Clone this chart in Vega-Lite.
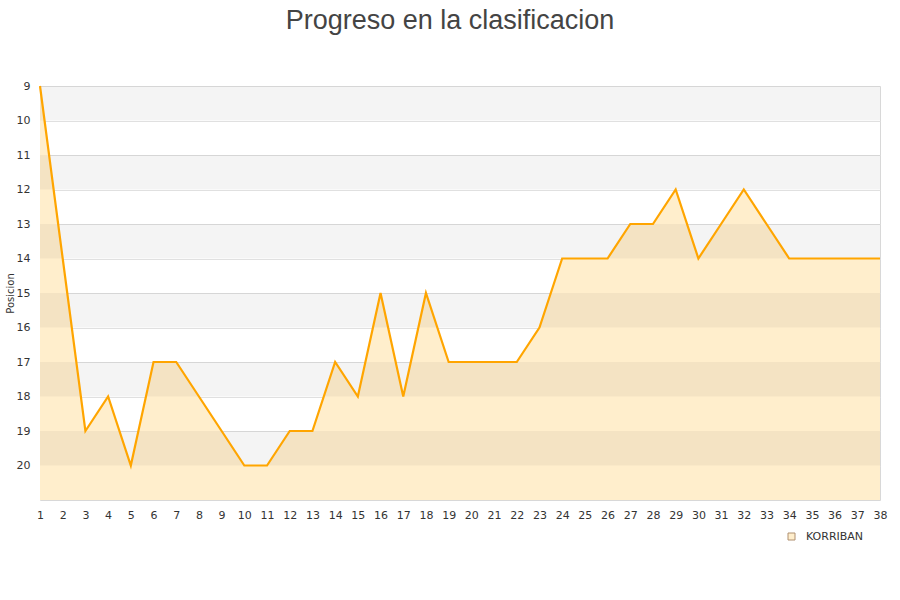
{
  "$schema": "https://vega.github.io/schema/vega-lite/v6.json",
  "width": 840,
  "height": 414,
  "autosize": {"type": "none"},
  "padding": {"left": 40, "top": 86, "right": 20, "bottom": 100},
  "background": "white",
  "title": {
    "text": "Progreso en la clasificacion",
    "font": "Liberation Sans",
    "fontSize": 27,
    "fontWeight": "normal",
    "color": "#444444",
    "anchor": "middle",
    "dx": -10,
    "offset": 45
  },
  "config": {
    "view": {"stroke": "#d8d8d8", "strokeWidth": 1},
    "axis": {"labelFont": "DejaVu Sans", "labelFontSize": 11, "labelColor": "#333333", "titleFont": "DejaVu Sans", "titleFontWeight": "normal", "labelOverlap": false, "ticks": false, "domain": false, "labelFlush": false},
    "axisX": {"grid": false, "labelPadding": 9},
    "axisY": {"grid": true, "gridColor": "#e0e0e0", "labelPadding": 10}
  },
  "datasets": {
    "bands": [
      {"y0": 9, "y1": 10}, {"y0": 11, "y1": 12}, {"y0": 13, "y1": 14},
      {"y0": 15, "y1": 16}, {"y0": 17, "y1": 18}, {"y0": 19, "y1": 20}
    ],
    "pos": [
      {"jornada": 1, "pos": 9, "equipo": "KORRIBAN"},
      {"jornada": 2, "pos": 14, "equipo": "KORRIBAN"},
      {"jornada": 3, "pos": 19, "equipo": "KORRIBAN"},
      {"jornada": 4, "pos": 18, "equipo": "KORRIBAN"},
      {"jornada": 5, "pos": 20, "equipo": "KORRIBAN"},
      {"jornada": 6, "pos": 17, "equipo": "KORRIBAN"},
      {"jornada": 7, "pos": 17, "equipo": "KORRIBAN"},
      {"jornada": 8, "pos": 18, "equipo": "KORRIBAN"},
      {"jornada": 9, "pos": 19, "equipo": "KORRIBAN"},
      {"jornada": 10, "pos": 20, "equipo": "KORRIBAN"},
      {"jornada": 11, "pos": 20, "equipo": "KORRIBAN"},
      {"jornada": 12, "pos": 19, "equipo": "KORRIBAN"},
      {"jornada": 13, "pos": 19, "equipo": "KORRIBAN"},
      {"jornada": 14, "pos": 17, "equipo": "KORRIBAN"},
      {"jornada": 15, "pos": 18, "equipo": "KORRIBAN"},
      {"jornada": 16, "pos": 15, "equipo": "KORRIBAN"},
      {"jornada": 17, "pos": 18, "equipo": "KORRIBAN"},
      {"jornada": 18, "pos": 15, "equipo": "KORRIBAN"},
      {"jornada": 19, "pos": 17, "equipo": "KORRIBAN"},
      {"jornada": 20, "pos": 17, "equipo": "KORRIBAN"},
      {"jornada": 21, "pos": 17, "equipo": "KORRIBAN"},
      {"jornada": 22, "pos": 17, "equipo": "KORRIBAN"},
      {"jornada": 23, "pos": 16, "equipo": "KORRIBAN"},
      {"jornada": 24, "pos": 14, "equipo": "KORRIBAN"},
      {"jornada": 25, "pos": 14, "equipo": "KORRIBAN"},
      {"jornada": 26, "pos": 14, "equipo": "KORRIBAN"},
      {"jornada": 27, "pos": 13, "equipo": "KORRIBAN"},
      {"jornada": 28, "pos": 13, "equipo": "KORRIBAN"},
      {"jornada": 29, "pos": 12, "equipo": "KORRIBAN"},
      {"jornada": 30, "pos": 14, "equipo": "KORRIBAN"},
      {"jornada": 31, "pos": 13, "equipo": "KORRIBAN"},
      {"jornada": 32, "pos": 12, "equipo": "KORRIBAN"},
      {"jornada": 33, "pos": 13, "equipo": "KORRIBAN"},
      {"jornada": 34, "pos": 14, "equipo": "KORRIBAN"},
      {"jornada": 35, "pos": 14, "equipo": "KORRIBAN"},
      {"jornada": 36, "pos": 14, "equipo": "KORRIBAN"},
      {"jornada": 37, "pos": 14, "equipo": "KORRIBAN"},
      {"jornada": 38, "pos": 14, "equipo": "KORRIBAN"}
    ]
  },
  "layer": [
    {
      "data": {"name": "pos"},
      "mark": {"type": "area", "fillOpacity": 1, "interpolate": "linear"},
      "encoding": {
        "x": {"field": "jornada", "type": "quantitative", "scale": {"domain": [1, 38], "nice": false, "zero": false},
          "axis": {"title": null, "tickCount": 100, "values": [1,2,3,4,5,6,7,8,9,10,11,12,13,14,15,16,17,18,19,20,21,22,23,24,25,26,27,28,29,30,31,32,33,34,35,36,37,38], "format": "d"}},
        "y": {"field": "pos", "type": "quantitative", "scale": {"domain": [9, 21], "reverse": true, "nice": false, "zero": false},
          "axis": {"title": "Posicion", "titleFontSize": 10, "titleColor": "#333333", "titlePadding": 1, "tickCount": 100, "values": [9,10,11,12,13,14,15,16,17,18,19,20], "format": "d"}},
        "y2": {"datum": 21},
        "color": {"field": "equipo", "type": "nominal", "scale": {"range": ["#FFEECC"]},
          "legend": {"title": null, "orient": "none", "legendX": 746, "legendY": 445, "symbolType": "square", "symbolSize": 49, "symbolStrokeColor": "#b09070", "symbolStrokeWidth": 1, "labelOffset": 9, "labelFont": "DejaVu Sans", "labelFontSize": 11, "labelColor": "#333333"}}
      }
    },
    {
      "data": {"name": "bands"},
      "mark": {"type": "rect", "color": "#000000", "opacity": 0.045},
      "encoding": {
        "y": {"field": "y0", "type": "quantitative"},
        "y2": {"field": "y1"}
      }
    },
    {
      "data": {"name": "pos"},
      "mark": {"type": "line", "color": "#FFA500", "strokeWidth": 2.2},
      "encoding": {
        "x": {"field": "jornada", "type": "quantitative"},
        "y": {"field": "pos", "type": "quantitative"}
      }
    }
  ]
}
